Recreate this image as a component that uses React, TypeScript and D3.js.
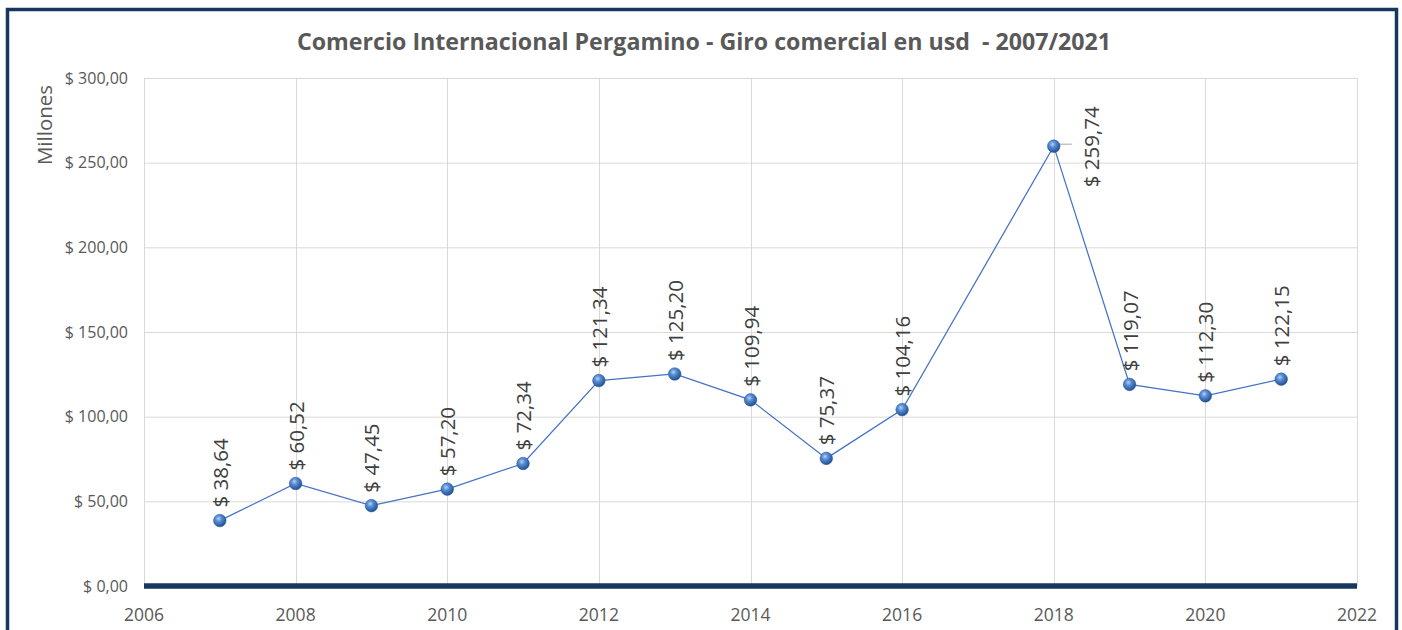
import * as React from 'react';
import * as d3 from 'd3';

const years = [2007, 2008, 2009, 2010, 2011, 2012, 2013, 2014, 2015, 2016, 2018, 2019, 2020, 2021];
const values = [38.64, 60.52, 47.45, 57.2, 72.34, 121.34, 125.2, 109.94, 75.37, 104.16, 259.74, 119.07, 112.3, 122.15];
const xTicks = [2006, 2008, 2010, 2012, 2014, 2016, 2018, 2020, 2022];
const yTicks = [0, 50, 100, 150, 200, 250, 300];

const title = 'Comercio Internacional Pergamino - Giro comercial en usd  - 2007/2021';
const yTitle = 'Millones';

const width = 1402;
const height = 630;
const navy = '#17375e';

const fmt = (v: number) => '$ ' + v.toFixed(2).replace('.', ',');

const App: React.FC = () => {
  const svgRef = React.useRef(null);

  React.useEffect(() => {
    const svg = d3.select(svgRef.current);
    svg.selectAll('*').remove();

    const x = d3.scaleLinear().domain([2006, 2022]).range([144, 1357]);
    const y = d3.scaleLinear().domain([0, 300]).range([586, 78]);

    const defs = svg.append('defs');
    const grad = defs.append('radialGradient')
      .attr('id', 'ball')
      .attr('cx', '40%').attr('cy', '35%').attr('r', '65%');
    grad.append('stop').attr('offset', '0%').attr('stop-color', '#bcd3f2');
    grad.append('stop').attr('offset', '35%').attr('stop-color', '#5b8fd6');
    grad.append('stop').attr('offset', '100%').attr('stop-color', '#1f4f91');

    // outer frame
    svg.append('rect')
      .attr('x', 7.5).attr('y', 9.5)
      .attr('width', 1389).attr('height', 640)
      .attr('fill', 'white')
      .attr('stroke', navy)
      .attr('stroke-width', 3.5);

    svg.append('text')
      .attr('x', 704).attr('y', 50)
      .attr('text-anchor', 'middle')
      .attr('font-family', 'Open Sans')
      .attr('font-weight', 'bold')
      .attr('font-size', 23.2)
      .attr('fill', '#595959')
      .style('white-space', 'pre')
      .text(title);

    // grid
    svg.append('g')
      .selectAll('line.h')
      .data(yTicks.filter(d => d > 0))
      .enter().append('line')
      .attr('x1', 144).attr('x2', 1357)
      .attr('y1', d => y(d) + 0.5).attr('y2', d => y(d) + 0.5)
      .attr('stroke', '#d9d9d9');

    svg.append('g')
      .selectAll('line.v')
      .data(xTicks)
      .enter().append('line')
      .attr('x1', d => Math.round(x(d)) + 0.5).attr('x2', d => Math.round(x(d)) + 0.5)
      .attr('y1', 78).attr('y2', 586)
      .attr('stroke', '#d9d9d9');

    // zero line
    svg.append('line')
      .attr('x1', 144).attr('x2', 1357)
      .attr('y1', y(0)).attr('y2', y(0))
      .attr('stroke', navy)
      .attr('stroke-width', 5.5);

    // tick labels
    svg.append('g')
      .selectAll('text')
      .data(yTicks)
      .enter().append('text')
      .attr('x', 128)
      .attr('y', d => y(d) + 5.5)
      .attr('text-anchor', 'end')
      .attr('font-family', 'Open Sans')
      .attr('font-size', 16)
      .attr('fill', '#595959')
      .text(d => '$ ' + d3.format('.2f')(d).replace('.', ','));

    svg.append('g')
      .selectAll('text')
      .data(xTicks)
      .enter().append('text')
      .attr('x', d => x(d))
      .attr('y', 621)
      .attr('text-anchor', 'middle')
      .attr('font-family', 'Open Sans')
      .attr('font-size', 17.5)
      .attr('fill', '#595959')
      .text(d => String(d));

    svg.append('text')
      .attr('transform', 'translate(52,125) rotate(-90)')
      .attr('text-anchor', 'middle')
      .attr('font-family', 'Open Sans')
      .attr('font-size', 20.5)
      .attr('fill', '#595959')
      .text(yTitle);

    const data = years.map((yr, i) => ({ yr, v: values[i] }));

    const line = d3.line<{ yr: number; v: number }>()
      .x(d => x(d.yr))
      .y(d => y(d.v));

    svg.append('path')
      .datum(data)
      .attr('d', line)
      .attr('fill', 'none')
      .attr('stroke', '#4472c4')
      .attr('stroke-width', 1.25);

    // leader for the peak label
    const peak = data[d3.maxIndex(data, d => d.v)];
    svg.append('line')
      .attr('x1', x(peak.yr) + 3).attr('x2', x(peak.yr) + 18)
      .attr('y1', y(peak.v) - 2).attr('y2', y(peak.v) - 2)
      .attr('stroke', '#a6a6a6');

    svg.append('g')
      .selectAll('circle')
      .data(data)
      .enter().append('circle')
      .attr('cx', d => x(d.yr))
      .attr('cy', d => y(d.v))
      .attr('r', 6.3)
      .attr('fill', 'url(#ball)')
      .attr('stroke', '#2a5a9c')
      .attr('stroke-width', 0.5);

    svg.append('g')
      .selectAll('text')
      .data(data)
      .enter().append('text')
      .attr('transform', d => d === peak
        ? `translate(${x(d.yr) + 45},${y(d.v) + 41}) rotate(-90)`
        : `translate(${x(d.yr) + 8},${y(d.v) - 13}) rotate(-90)`)
      .attr('font-family', 'Open Sans')
      .attr('font-size', 20.5)
      .attr('fill', '#404040')
      .text(d => fmt(d.v));
  }, []);

  return (
    <svg ref={svgRef} width={width} height={height}
      style={{ position: 'absolute', left: 0, top: 0, display: 'block' }} />
  );
};

export default App;
